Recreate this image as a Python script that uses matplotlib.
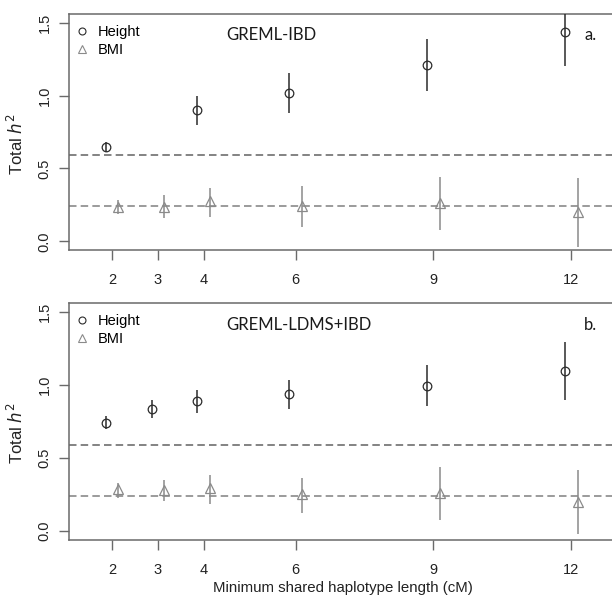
import numpy as np
import matplotlib
matplotlib.use("Agg")
import matplotlib.pyplot as plt
from matplotlib.lines import Line2D

# ---- data ----
seg_len = [2, 3, 4, 6, 9, 12]
tick_labels = ["2", "3", "4", "6", "9", "12"]

height_a = [0.650, np.nan, 0.898, 1.017, 1.208, 1.436]
height_a_lo = [0.616, np.nan, 0.798, 0.878, 1.030, 1.201]
height_a_hi = [0.684, np.nan, 0.996, 1.158, 1.386, 1.671]
bmi_a = [0.235, 0.235, 0.274, 0.239, 0.264, 0.203]
bmi_a_lo = [0.187, 0.160, 0.169, 0.098, 0.080, -0.039]
bmi_a_hi = [0.285, 0.317, 0.369, 0.378, 0.440, 0.435]

height_b = [0.743, 0.839, 0.889, 0.937, 0.996, 1.096]
height_b_lo = [0.702, 0.777, 0.807, 0.839, 0.859, 0.900]
height_b_hi = [0.786, 0.900, 0.969, 1.037, 1.135, 1.293]
bmi_b = [0.287, 0.280, 0.294, 0.253, 0.264, 0.203]
bmi_b_lo = [0.228, 0.207, 0.187, 0.128, 0.080, -0.018]
bmi_b_hi = [0.331, 0.349, 0.388, 0.367, 0.438, 0.417]

ref_height = 0.59
ref_bmi = 0.24

panel_titles = ["GREML-IBD", "GREML-LDMS+IBD"]
panel_tags = ["a.", "b."]
y_ticks = [0.0, 0.5, 1.0, 1.5]
y_tick_labels = ["0.0", "0.5", "1.0", "1.5"]

# ---- style ----
plt.rcParams['font.family'] = ['Liberation Sans', 'DejaVu Sans']
W, H = 612, 595
fig = plt.figure(figsize=(W / 100, H / 100), dpi=100)

dark = "#2b2b2b"
grey = "#8a8a8a"
dash_col = "#6e6e6e"
spine_col = "#6a6a6a"
off = 0.14

panels = [
    dict(top=14, bottom=250, h=height_a, hlo=height_a_lo, hhi=height_a_hi,
         b=bmi_a, blo=bmi_a_lo, bhi=bmi_a_hi),
    dict(top=303.3, bottom=540, h=height_b, hlo=height_b_lo, hhi=height_b_hi,
         b=bmi_b, blo=bmi_b_lo, bhi=bmi_b_hi),
]

left_px, right_px = 68.5, 617.0
for i, p in enumerate(panels):
    ax = fig.add_axes([left_px / W, 1 - p['bottom'] / H,
                       (right_px - left_px) / W, (p['bottom'] - p['top']) / H])
    x = np.array(seg_len, dtype=float)
    h = np.array(p['h']); hlo = np.array(p['hlo']); hhi = np.array(p['hhi'])
    b = np.array(p['b']); blo = np.array(p['blo']); bhi = np.array(p['bhi'])

    ax.axhline(ref_height, color=dash_col, lw=1.2, dashes=(4.5, 2.5), zorder=1)
    ax.axhline(ref_bmi, color=grey, lw=1.2, dashes=(4.5, 2.5), zorder=1)

    ax.errorbar(x - off, h, yerr=[h - hlo, hhi - h], fmt='o', ms=6.2,
                mfc='none', mec=dark, mew=0.9, ecolor=dark, elinewidth=1.1,
                capsize=0, zorder=3)
    ax.errorbar(x + off, b, yerr=[b - blo, bhi - b], fmt='^', ms=7.5,
                mfc='none', mec=grey, mew=0.9, ecolor=grey, elinewidth=1.1,
                capsize=0, zorder=3)

    ax.set_xlim(1.052, 13.0)
    ax.set_ylim(-0.06, 1.56)
    ax.set_xticks(seg_len)
    ax.set_xticklabels(tick_labels)
    ax.set_yticks(y_ticks)
    ax.set_yticklabels(y_tick_labels, rotation=90, va='center')
    ax.tick_params(axis='both', direction='out', length=7.2, width=1.0,
                   color=spine_col, labelsize=10.5, labelcolor="#222222")
    ax.tick_params(axis='x', pad=9)
    ax.tick_params(axis='y', pad=5)
    for s in ax.spines.values():
        s.set_color(spine_col)
        s.set_linewidth(1.1)

    ax.set_ylabel(r"Total $\mathit{h}^2$", fontsize=12, color="#222222")
    ax.yaxis.set_label_coords(-0.077, 0.45)

    ax.text(0.288, 0.91, panel_titles[i], transform=ax.transAxes,
            fontsize=12, family='Lato', color="#1a1a1a", va='center', ha='left')
    ax.text(0.94, 0.91, panel_tags[i], transform=ax.transAxes,
            fontsize=12, family='Lato', color="#1a1a1a", va='center', ha='left')

    handles = [Line2D([], [], ls='none', marker='o', ms=5, mfc='none', mec=dark, mew=0.8),
               Line2D([], [], ls='none', marker='^', ms=6, mfc='none', mec=grey, mew=0.8)]
    ax.legend(handles, ["Height", "BMI"], loc='upper left',
              bbox_to_anchor=(0.0113, 0.955), borderaxespad=0, borderpad=0,
              frameon=False, handlelength=1.0, handletextpad=0.55,
              labelspacing=0.3, fontsize=10.5)

    if i == 1:
        ax.set_xlabel("Minimum shared haplotype length (cM)", fontsize=10.8,
                      color="#222222", labelpad=3)

fig.savefig("out.png", dpi=100)
